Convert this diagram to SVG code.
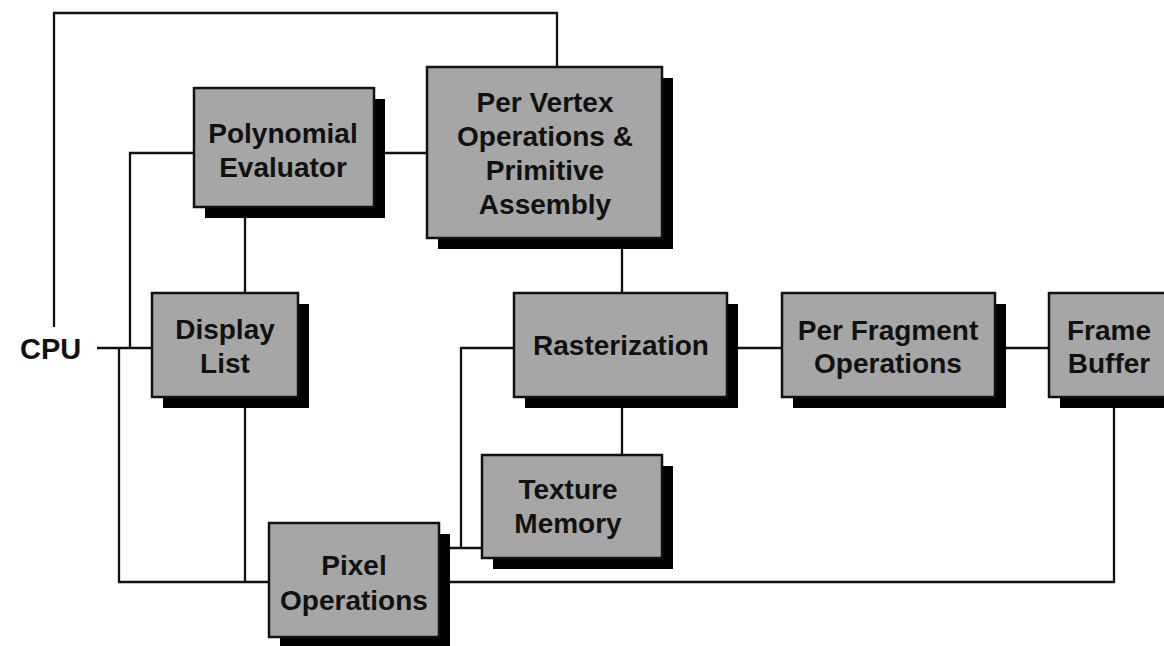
<svg xmlns="http://www.w3.org/2000/svg" width="1164" height="646" viewBox="0 0 1164 646">
<defs>
<style>
.box{fill:#a6a6a6;stroke:#111;stroke-width:2.5}
.sh{fill:#000}
.wire{fill:none;stroke:#111;stroke-width:2.3;stroke-linejoin:miter}
.lbl{font-family:"Liberation Sans",Arial,Helvetica,sans-serif;font-weight:bold;font-size:28px;fill:#111;text-anchor:middle}
.cpu{font-family:"Liberation Sans",Arial,Helvetica,sans-serif;font-weight:bold;font-size:29px;fill:#111}
</style>
</defs>
<rect width="1164" height="646" fill="#fff"/>
<g id="connectors">
<polyline class="wire" points="54,327 54,13 557,13 557,67"/>
<line class="wire" x1="97" y1="348" x2="152" y2="348"/>
<polyline class="wire" points="130,348 130,153 194,153"/>
<polyline class="wire" points="119,348 119,582 269,582"/>
<line class="wire" x1="374" y1="153" x2="427" y2="153"/>
<line class="wire" x1="245" y1="207" x2="245" y2="293"/>
<line class="wire" x1="245" y1="397" x2="245" y2="582"/>
<line class="wire" x1="622" y1="238" x2="622" y2="293"/>
<line class="wire" x1="622" y1="397" x2="622" y2="455"/>
<polyline class="wire" points="514,348 461,348 461,548"/>
<line class="wire" x1="439" y1="548" x2="482" y2="548"/>
<line class="wire" x1="727" y1="348" x2="782" y2="348"/>
<line class="wire" x1="995" y1="348" x2="1049" y2="348"/>
<polyline class="wire" points="439,582 1114,582 1114,397"/>
</g>
<g id="cpu">
<text class="cpu" x="20" y="359">CPU</text>
</g>
<g id="polynomial-evaluator">
<rect class="sh" x="205" y="99" width="180" height="119"/>
<rect class="box" x="194" y="88" width="180" height="119"/>
<text class="lbl" x="283" y="143">Polynomial</text>
<text class="lbl" x="283" y="177">Evaluator</text>
</g>
<g id="per-vertex">
<rect class="sh" x="438" y="78" width="235" height="171"/>
<rect class="box" x="427" y="67" width="235" height="171"/>
<text class="lbl" x="545" y="112">Per Vertex</text>
<text class="lbl" x="545" y="146">Operations &amp;</text>
<text class="lbl" x="545" y="180">Primitive</text>
<text class="lbl" x="545" y="214">Assembly</text>
</g>
<g id="display-list">
<rect class="sh" x="163" y="304" width="146" height="104"/>
<rect class="box" x="152" y="293" width="146" height="104"/>
<text class="lbl" x="225" y="339">Display</text>
<text class="lbl" x="225" y="373">List</text>
</g>
<g id="rasterization">
<rect class="sh" x="525" y="304" width="213" height="104"/>
<rect class="box" x="514" y="293" width="213" height="104"/>
<text class="lbl" x="621" y="355">Rasterization</text>
</g>
<g id="per-fragment">
<rect class="sh" x="793" y="304" width="213" height="104"/>
<rect class="box" x="782" y="293" width="213" height="104"/>
<text class="lbl" x="888" y="340">Per Fragment</text>
<text class="lbl" x="888" y="373">Operations</text>
</g>
<g id="frame-buffer">
<rect class="sh" x="1060" y="304" width="120" height="104"/>
<rect class="box" x="1049" y="293" width="120" height="104"/>
<text class="lbl" x="1109" y="340">Frame</text>
<text class="lbl" x="1109" y="373">Buffer</text>
</g>
<g id="texture-memory">
<rect class="sh" x="493" y="466" width="180" height="103"/>
<rect class="box" x="482" y="455" width="180" height="103"/>
<text class="lbl" x="568" y="499">Texture</text>
<text class="lbl" x="568" y="533">Memory</text>
</g>
<g id="pixel-operations">
<rect class="sh" x="280" y="534" width="170" height="114"/>
<rect class="box" x="269" y="523" width="170" height="114"/>
<text class="lbl" x="354" y="575">Pixel</text>
<text class="lbl" x="354" y="610">Operations</text>
</g>
</svg>
